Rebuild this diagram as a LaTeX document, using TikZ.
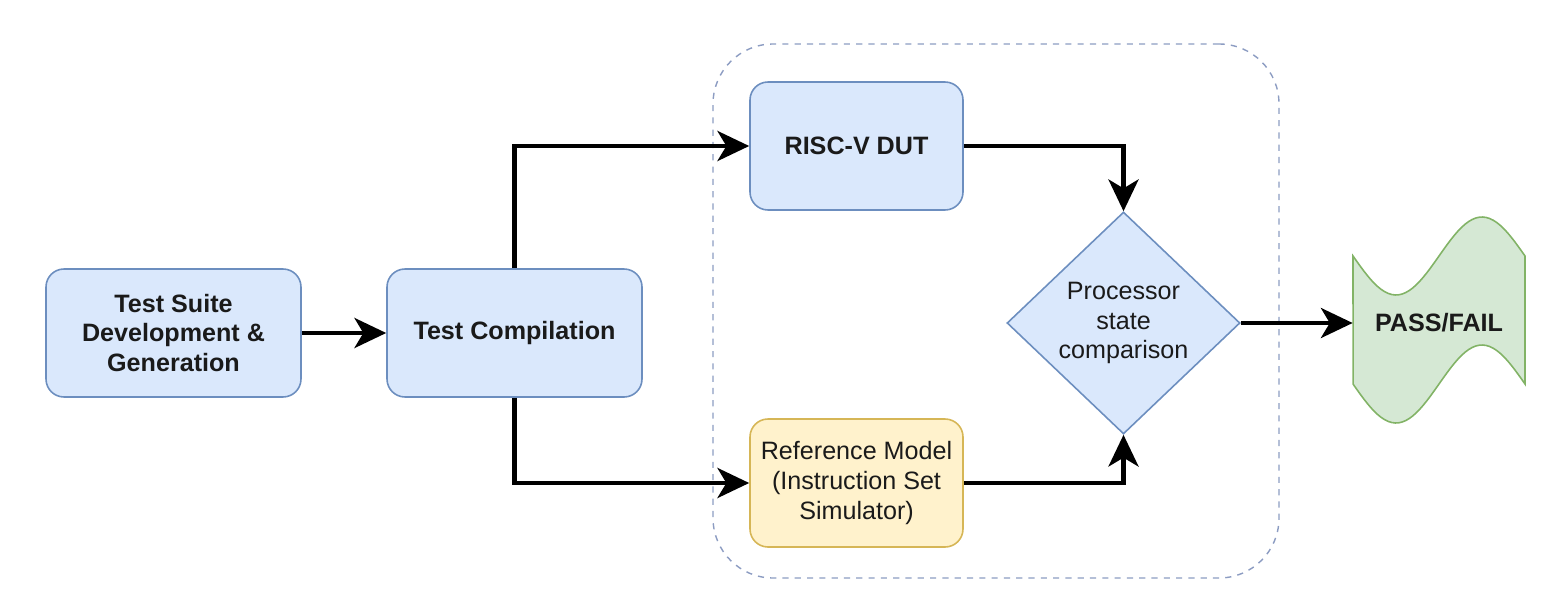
\documentclass[tikz,border=0pt]{standalone}
\usepackage{fontspec}
\setmainfont{Liberation Sans}
\usetikzlibrary{shapes.geometric, arrows.meta, positioning}

\definecolor{bluefill}{HTML}{DAE8FC}
\definecolor{bluedraw}{HTML}{6C8EBF}
\definecolor{yelfill}{HTML}{FFF2CC}
\definecolor{yeldraw}{HTML}{D6B656}
\definecolor{grnfill}{HTML}{D5E8D4}
\definecolor{grndraw}{HTML}{82B366}
\definecolor{framedraw}{HTML}{8C9CC2}
\definecolor{txt}{HTML}{1A1A1A}

\tikzset{
  box/.style={draw=bluedraw, fill=bluefill, line width=0.9pt, rounded corners=0.36cm,
    minimum height=2.56cm, align=center, text=txt, font=\fontsize{14.3}{17}\selectfont},
  flow/.style={line width=2.8pt, -{Stealth[length=18pt, width=17pt, inset=5pt]}}
}

\begin{document}
\begin{tikzpicture}
\useasboundingbox (0,0) rectangle (31.06,11.88);

% dashed frame round DUT and model
\node[draw=framedraw, dash pattern=on 3.5pt off 3.5pt, line width=0.8pt, rounded corners=1.2cm,
  minimum width=11.32cm, minimum height=10.68cm] (sim) at (19.92,5.66) {};

\node[box, minimum width=5.1cm, font=\bfseries\fontsize{14.3}{17}\selectfont] (suite) at (3.47,5.22)
  {Test Suite\\Development \&\\Generation};
\node[box, minimum width=5.1cm, font=\bfseries\fontsize{14.3}{17}\selectfont] (comp) at (10.29,5.22)
  {Test Compilation};
\node[box, minimum width=4.26cm, font=\bfseries\fontsize{14.3}{17}\selectfont] (dut) at (17.13,8.96)
  {RISC-V DUT};
\node[box, minimum width=4.26cm, draw=yeldraw, fill=yelfill] (ref) at (17.13,2.22)
  {Reference Model\\(Instruction Set\\Simulator)};
\node[diamond, draw=bluedraw, fill=bluefill, line width=0.9pt, minimum width=4.66cm, minimum height=4.44cm,
  inner sep=0pt, align=center, text=txt, font=\fontsize{14.3}{17}\selectfont] (cmp) at (22.47,5.42)
  {Processor\\state\\comparison};

% tape shape for the result
\draw[draw=grndraw, fill=grnfill, line width=0.9pt]
  plot[domain=0:1, samples=50] ({27.06+3.44*\x},{6.76-0.78*sin(360*\x)})
  -- plot[domain=1:0, samples=50] ({27.06+3.44*\x},{4.2-0.78*sin(360*\x)}) -- cycle;
\node[minimum width=3.44cm, minimum height=2.56cm, text=txt, font=\bfseries\fontsize{14.3}{17}\selectfont]
  (pass) at (28.78,5.42) {PASS/FAIL};

\draw[flow] (suite) -- (comp);
\draw[flow] (comp.north) |- (dut.west);
\draw[flow] (comp.south) |- (ref.west);
\draw[flow] (dut.east) -| (cmp.north);
\draw[flow] (ref.east) -| (cmp.south);
\draw[flow] (cmp.east) -- (pass.west);
\end{tikzpicture}
\end{document}
